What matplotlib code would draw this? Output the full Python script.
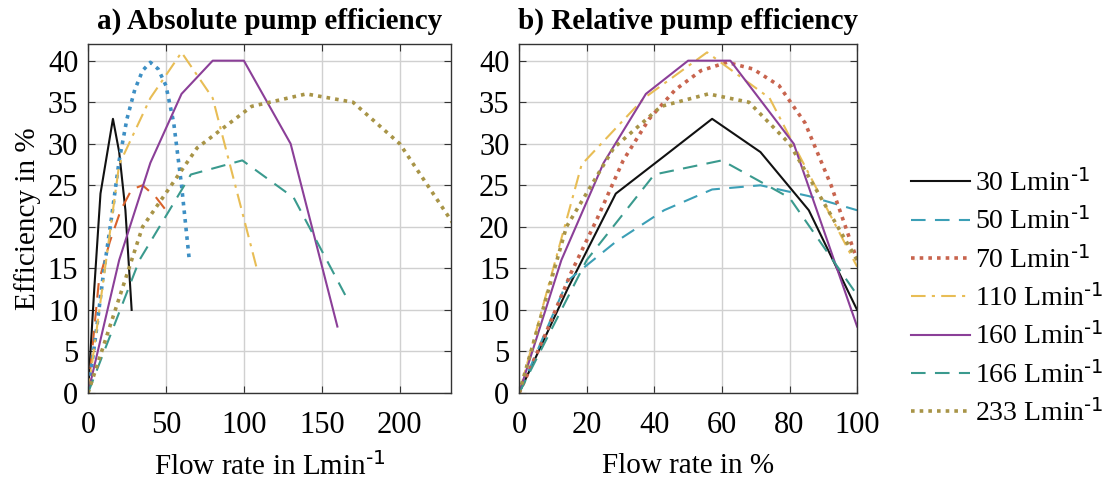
import matplotlib
matplotlib.use("Agg")
import matplotlib.pyplot as plt

plt.rcParams['font.family'] = ['Liberation Serif', 'DejaVu Serif']
plt.rcParams['mathtext.default'] = 'regular'

# ---------------- data ----------------
labels = ["30", "50", "70", "110", "160", "166", "233"]

# absolute flow rate (L/min) for panel a
abs_30 = [0, 4, 8, 12, 16, 20, 24, 28]
abs_50 = [0, 7, 14, 21, 28, 35, 43, 50]
abs_70 = [0, 5, 10, 15, 20, 25, 30, 35, 40, 45, 50, 55, 60, 65]
abs_110 = [0, 20, 40, 60, 80, 108]
abs_160 = [0, 20, 40, 60, 80, 100, 130, 160]
abs_166 = [0, 33, 66, 99, 132, 165]
abs_233 = [0, 35, 70, 105, 140, 170, 200, 225, 250]

# relative flow rate (%) for panel b
rel_30 = [0, 14.3, 28.6, 42.9, 57.1, 71.4, 85.7, 100]
rel_50 = [0, 14.3, 28.6, 42.9, 57.1, 71.4, 85.7, 100]
rel_70 = [0, 7.7, 15.4, 23.1, 30.8, 38.5, 46.2, 53.8, 61.5, 69.2, 76.9, 84.6, 92.3, 100]
rel_110 = [0, 18.5, 37.0, 55.6, 74.1, 100]
rel_160 = [0, 12.5, 25, 37.5, 50, 62.5, 81.25, 100]
rel_166 = [0, 20, 40, 60, 80, 100]
rel_233 = [0, 14, 28, 42, 56, 68, 80, 90, 100]

# efficiency (%)
eff_30 = [0, 12.5, 24, 28.5, 33, 29, 22, 10]
eff_50 = [0, 13.5, 18.2, 22, 24.5, 25, 23.7, 22]
eff_70 = [0, 7, 14.5, 21, 28, 33, 36.5, 38.8, 39.8, 39, 37, 32.5, 25, 16]
eff_110 = [0, 27.5, 35.5, 41, 35.5, 15.2]
eff_160 = [0, 16, 27.7, 36, 40, 40, 30, 8]
eff_166 = [0, 16, 26.3, 28, 23.5, 11.8]
eff_233 = [0, 20, 29.5, 34.5, 36, 35, 30, 23, 16]

abs_x = [abs_30, abs_50, abs_70, abs_110, abs_160, abs_166, abs_233]
rel_x = [rel_30, rel_50, rel_70, rel_110, rel_160, rel_166, rel_233]
effs = [eff_30, eff_50, eff_70, eff_110, eff_160, eff_166, eff_233]

# ---------------- styles ----------------
dot = (0, (1, 1.4))
dash = (0, (7, 4.5))
styles = ['-', dash, dot, (0, (7, 3, 1.5, 3)), '-', dash, dot]
widths = [1.5, 1.5, 2.6, 1.5, 1.5, 1.5, 2.6]
colors_a = ['#111111', '#d9622b', '#3d8fc4', '#e8bd55', '#8b3f98', '#3a9a8e', '#a89447']
colors_b = ['#111111', '#3b9fb6', '#c8644e', '#e8bd55', '#8b3f98', '#3a9a8e', '#a89447']

fig = plt.figure(figsize=(11.14, 4.82), dpi=100)
axa = fig.add_axes([0.079, 0.1846, 0.326, 0.724])
axb = fig.add_axes([0.466, 0.1846, 0.3034, 0.724])

FS = 21
TS = 22
LS = 20

for i in range(len(labels)):
    axa.plot(abs_x[i], effs[i], linestyle=styles[i], color=colors_a[i], lw=widths[i])
    axb.plot(rel_x[i], effs[i], linestyle=styles[i], color=colors_b[i], lw=widths[i],
             label=labels[i] + r" Lmin$^{\text{-1}}$")

for ax in (axa, axb):
    ax.set_ylim(0, 42)
    ax.set_yticks(range(0, 41, 5))
    ax.grid(True, color='#d0d0d0', lw=1.0)
    ax.set_axisbelow(True)
    ax.tick_params(direction='in', top=True, right=True, labelsize=TS, length=5,
                   color='#333333')
    ax.tick_params(axis='x', pad=13)
    ax.tick_params(axis='y', pad=7)
    for s in ax.spines.values():
        s.set_color('#333333')
        s.set_linewidth(1.0)

axa.set_xlim(0, 233)
axa.set_xticks([0, 50, 100, 150, 200])
axb.set_xlim(0, 100)
axb.set_xticks(range(0, 101, 20))

axa.set_title("a) Absolute pump efficiency", fontsize=FS, fontweight='bold', pad=11)
axb.set_title("b) Relative pump efficiency", fontsize=FS, fontweight='bold', pad=11)
axa.set_xlabel(r"Flow rate in Lmin$^{\text{-1}}$", fontsize=FS, labelpad=9)
axb.set_xlabel("Flow rate in %", fontsize=FS, labelpad=9)
axa.set_ylabel("Efficiency in %", fontsize=FS, labelpad=5)

handles, labs = axb.get_legend_handles_labels()
fig.legend(handles, labs, loc='upper left', bbox_to_anchor=(0.808, 0.672),
           frameon=False, fontsize=LS, handlelength=2.1, handletextpad=0.2,
           labelspacing=0.38, borderaxespad=0)

fig.savefig("out.png", dpi=100, facecolor='white')
